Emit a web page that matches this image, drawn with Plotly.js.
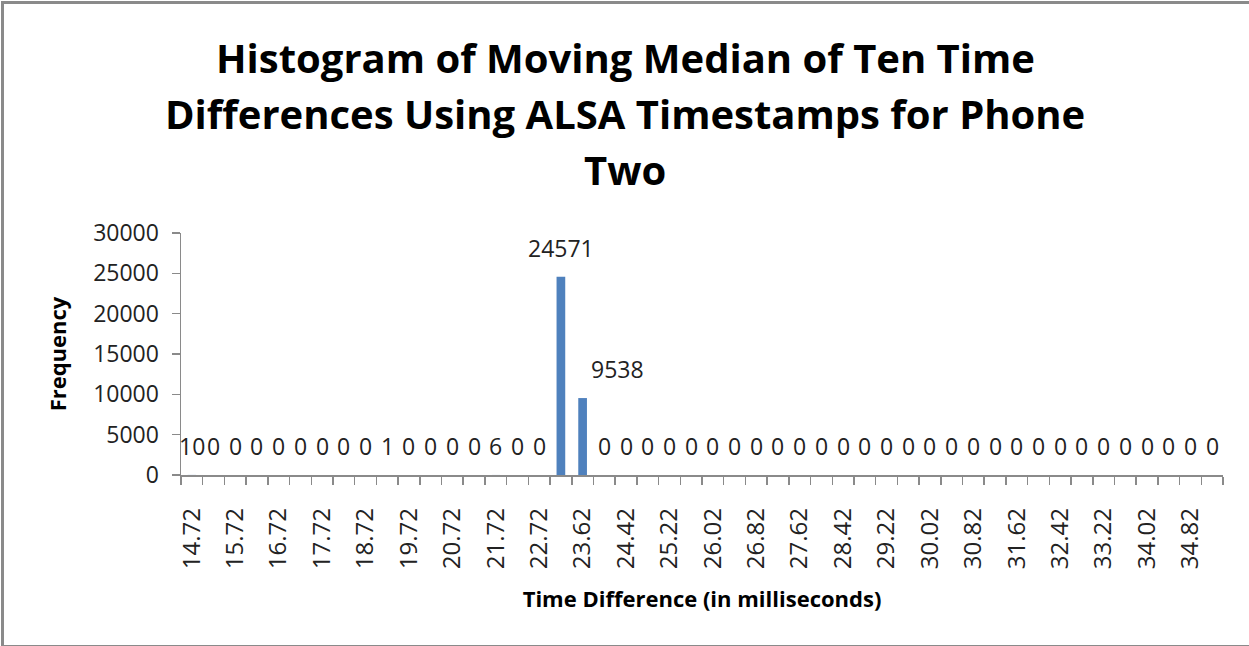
<!DOCTYPE html>
<html>
<head>
<meta charset="utf-8">
<script src="https://cdn.plot.ly/plotly-3.0.1.min.js"></script>
<style>
  html, body { margin: 0; padding: 0; background: #fff; }
  #wrap { position: relative; width: 1249px; height: 646px; overflow: hidden; }
  #chart { position: absolute; left: 0; top: 0; width: 1249px; height: 646px; }
  #frame { position: absolute; left: 1px; top: 1px; width: 1260px; height: 641px;
           border-left: 3px solid #8a8a8a; border-top: 3px solid #8a8a8a; border-bottom: 3px solid #8a8a8a;
           pointer-events: none; }
</style>
</head>
<body>
<div id="wrap"><div id="chart"></div><div id="frame"></div></div>
<script>
// Bin labels (milliseconds)
const bins = [
  "14.72","15.22","15.72","16.22","16.72","17.22","17.72","18.22","18.72","19.22",
  "19.72","20.22","20.72","21.22","21.72","22.22","22.72","23.22","23.62","24.02",
  "24.42","24.82","25.22","25.62","26.02","26.42","26.82","27.22","27.62","28.02",
  "28.42","28.82","29.22","29.62","30.02","30.42","30.82","31.22","31.62","32.02",
  "32.42","32.82","33.22","33.62","34.02","34.42","34.82","35.22"
];
// Frequencies
const freq = [
  10,0,0,0,0,0,0,0,0,1,
  0,0,0,0,6,0,0,24571,9538,0,
  0,0,0,0,0,0,0,0,0,0,
  0,0,0,0,0,0,0,0,0,0,
  0,0,0,0,0,0,0,0
];
// Title lines
const titleLines = [
  "Histogram of Moving Median of Ten Time",
  "Differences Using ALSA Timestamps for Phone",
  "Two"
];
// Only every other bin label is shown on the axis
const shownEvery = 2;

const xIdx = bins.map((_, i) => i);
const tickvals = xIdx.filter(i => i % shownEvery === 0);
const ticktext = tickvals.map(i => bins[i]);

// the label of the second tall bar sits to its right
const labelShift = {};
const sorted = freq.map((v, i) => [v, i]).sort((a, b) => b[0] - a[0]);
labelShift[sorted[1][1]] = 35;

const annotations = freq.map((v, i) => ({
  x: i, y: v, xref: 'x', yref: 'y', text: String(v), showarrow: false,
  yanchor: 'bottom', yshift: 11, xshift: labelShift[i] || 0,
  font: {family: 'Open Sans, sans-serif', size: 23, color: '#222'}
}));
titleLines.forEach((line, k) => {
  annotations.push({
    text: '<b>' + line + '</b>',
    xref: 'paper', yref: 'paper', x: (625 - 181) / (1223 - 181), y: 1,
    yshift: 233 - 57 - 56 * k,
    xanchor: 'center', yanchor: 'middle', showarrow: false,
    font: {family: 'Open Sans, sans-serif', size: 40, color: '#000'}
  });
});

const trace = {
  type: 'bar', x: xIdx, y: freq, width: 0.4,
  marker: {color: '#4f81bd', line: {width: 0}},
  hoverinfo: 'x+y'
};

const layout = {
  width: 1249, height: 646,
  margin: {l: 181, r: 26, t: 233, b: 171},
  paper_bgcolor: '#fff', plot_bgcolor: '#fff',
  showlegend: false,
  xaxis: {
    type: 'linear', range: [-0.5, bins.length - 0.5],
    tickmode: 'array', tickvals: tickvals, ticktext: ticktext,
    tickangle: -90, ticks: '', ticklabelstandoff: 22,
    tickfont: {family: 'Open Sans, sans-serif', size: 24, color: '#222'},
    showgrid: false, zeroline: false,
    showline: true, linecolor: '#8a8a8a', linewidth: 1.5,
    minor: {tickmode: 'linear', tick0: -0.5, dtick: 1, ticks: 'outside', ticklen: 8, tickcolor: '#8a8a8a', tickwidth: 1.5, showgrid: false},
    title: {text: '<b>Time Difference (in milliseconds)</b>', standoff: 23,
            font: {family: 'Open Sans, sans-serif', size: 22, color: '#000'}}
  },
  yaxis: {
    range: [0, 30000], dtick: 5000, tick0: 0, tickformat: 'd',
    ticks: 'outside', ticklen: 8, tickcolor: '#8a8a8a', tickwidth: 1.5,
    ticklabelstandoff: 8,
    tickfont: {family: 'Open Sans, sans-serif', size: 23, color: '#222'},
    showgrid: false, zeroline: false,
    showline: true, linecolor: '#8a8a8a', linewidth: 1.5,
    title: {text: '<b>Frequency</b>', standoff: 20,
            font: {family: 'Open Sans, sans-serif', size: 22, color: '#000'}}
  },
  annotations: annotations
};

Plotly.newPlot('chart', [trace], layout, {displayModeBar: false, staticPlot: true});
</script>
</body>
</html>
